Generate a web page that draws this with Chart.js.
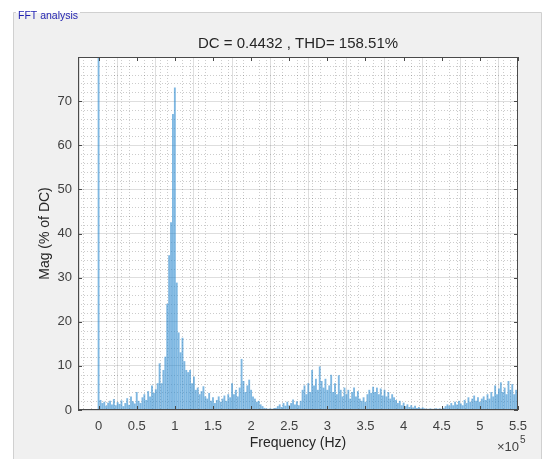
<!DOCTYPE html>
<html>
<head>
<meta charset="utf-8">
<script src="https://cdn.jsdelivr.net/npm/chart.js@4.4.1/dist/chart.umd.min.js"></script>
<style>
    html, body { margin: 0; padding: 0; background: #ffffff; }
    #wrap { position: relative; width: 547px; height: 459px; }
</style>
</head>
<body>
<div id="wrap"><canvas id="fft"></canvas></div>
<script>
var binHz = 2500;
var mag = [
    100, 2.2, 1.5, 1.8, 0.9, 1.6, 2.0, 1.2, 2.4, 1.0,
    1.7, 1.3, 2.1, 0.8, 1.5, 2.6, 1.1, 3.0, 1.9, 1.4,
    4.0, 2.0, 1.5, 2.8, 3.5, 2.2, 4.2, 3.0, 5.5, 3.8,
    4.6, 6.0, 10.5, 6.0, 9.0, 12.0, 24.0, 35.0, 42.5, 67.0,
    73.0, 28.8, 17.5, 13.0, 16.3, 11.0, 9.0, 8.5, 9.0, 6.0,
    7.5, 4.5, 5.0, 3.5, 4.2, 5.3, 3.0, 2.5, 3.8, 2.0,
    2.8, 1.5, 2.2, 3.0, 1.8, 2.5, 3.2, 2.0, 3.5, 2.8,
    6.0, 3.5, 4.5, 3.0, 5.0, 11.5, 6.5, 4.0, 5.5, 6.8,
    4.5, 3.0, 2.5, 1.8, 2.0, 1.2, 0.8, 0.4, 0.3, 0.2,
    0.3, 0.2, 0.3, 0.4, 0.8, 1.2, 0.6, 1.5, 0.9, 1.8,
    1.0, 1.5, 2.3, 1.2, 1.9, 1.0, 2.0, 4.5, 5.5, 3.5,
    6.0, 4.0, 9.0, 5.5, 7.0, 4.5, 9.8, 6.5, 5.0, 7.0,
    4.5, 5.5, 7.9, 4.0, 6.0, 3.5, 7.8, 4.5, 3.0, 5.0,
    3.5, 4.5, 2.5, 4.0, 5.0, 3.0, 4.2, 2.5, 2.0, 2.8,
    1.8, 3.5, 4.5, 3.8, 5.2, 4.0, 5.0, 3.5, 4.8, 3.2,
    4.5, 3.0, 4.0, 2.5, 3.5, 2.8, 2.2, 1.5, 2.0, 1.0,
    1.6, 0.8, 1.2, 0.6, 1.0, 0.5, 0.9, 0.4, 0.6, 0.3,
    0.5, 0.3, 0.2, 0.2, 0.3, 0.2, 0.2, 0.3, 0.2, 0.3,
    0.2, 0.4, 0.8, 1.2, 0.9, 1.5, 1.0, 1.8, 1.2, 2.0,
    1.4, 1.0, 2.2, 1.5, 2.8, 1.8, 2.5, 3.2, 2.0, 2.8,
    1.8, 2.5, 3.0, 2.2, 3.5, 2.5, 4.0, 3.0, 5.5, 3.5,
    4.8, 6.2, 4.0, 5.0, 3.5, 6.5, 4.5, 5.8, 3.5, 4.5,
    3.0
];
var xTicks = [0, 0.5, 1, 1.5, 2, 2.5, 3, 3.5, 4, 4.5, 5, 5.5];   // x 10^5 Hz
var yTicks = [0, 10, 20, 30, 40, 50, 60, 70];
var xMin = -27000, xMax = 550000, yMin = 0, yMax = 80;

var axisGrey = '#4a4a4a';
var fontName = "'Liberation Sans', Arial, sans-serif";

//! gray panel, groupbox, white plot area
var panelPlugin = {
    id: 'panel',
    beforeDraw: function (chart) {
        var ctx = chart.ctx, a = chart.chartArea;
        ctx.save();
        ctx.fillStyle = '#ffffff';
        ctx.fillRect(0, 0, chart.width, chart.height);
        ctx.fillStyle = '#f0f0f0';
        ctx.fillRect(13, 13, 528, chart.height - 13);
        // groupbox border
        ctx.strokeStyle = '#d0d0d0';
        ctx.lineWidth = 1;
        ctx.beginPath();
        ctx.moveTo(13.5, chart.height);
        ctx.lineTo(13.5, 12.5);
        ctx.lineTo(16, 12.5);
        ctx.moveTo(80, 12.5);
        ctx.lineTo(541.5, 12.5);
        ctx.lineTo(541.5, chart.height);
        ctx.stroke();
        ctx.fillStyle = '#1f1fb0';
        ctx.font = '10.5px ' + fontName;
        ctx.textBaseline = 'middle';
        ctx.fillText('FFT analysis', 18, 16);
        // plot area
        ctx.fillStyle = '#ffffff';
        ctx.fillRect(a.left, a.top, a.right - a.left, a.bottom - a.top);
        ctx.restore();
    },
    beforeDatasetsDraw: function (chart) {
        //! minor grid, dotted
        var ctx = chart.ctx, a = chart.chartArea;
        var xs = chart.scales.x, ys = chart.scales.y;
        ctx.save();
        ctx.strokeStyle = 'rgba(0,0,0,0.2)';
        ctx.lineWidth = 1;
        ctx.setLineDash([1, 2]);
        ctx.beginPath();
        for (var v = -20000; v < xMax; v += 10000) {
            if (v % 50000 === 0) continue;
            var px = Math.round(xs.getPixelForValue(v)) + 0.5;
            ctx.moveTo(px, a.top);
            ctx.lineTo(px, a.bottom);
        }
        for (var w = 2; w < yMax; w += 2) {
            if (w % 10 === 0) continue;
            var py = Math.round(ys.getPixelForValue(w)) + 0.5;
            ctx.moveTo(a.left, py);
            ctx.lineTo(a.right, py);
        }
        ctx.stroke();
        ctx.restore();
    },
    afterDraw: function (chart) {
        var ctx = chart.ctx, a = chart.chartArea;
        var xs = chart.scales.x, ys = chart.scales.y;
        ctx.save();
        ctx.strokeStyle = axisGrey;
        ctx.lineWidth = 1;
        ctx.strokeRect(a.left + 0.5, a.top + 0.5, a.right - a.left - 1, a.bottom - a.top - 1);
        // inward tick marks
        ctx.beginPath();
        xTicks.forEach(function (t) {
            var px = Math.round(xs.getPixelForValue(t * 1e5)) + 0.5;
            ctx.moveTo(px, a.bottom); ctx.lineTo(px, a.bottom - 4);
            ctx.moveTo(px, a.top); ctx.lineTo(px, a.top + 4);
        });
        yTicks.forEach(function (t) {
            var py = Math.round(ys.getPixelForValue(t)) + 0.5;
            ctx.moveTo(a.left, py); ctx.lineTo(a.left + 4, py);
            ctx.moveTo(a.right, py); ctx.lineTo(a.right - 4, py);
        });
        ctx.stroke();
        // exponent label
        ctx.fillStyle = '#404040';
        ctx.textAlign = 'right';
        ctx.textBaseline = 'alphabetic';
        ctx.font = '13px ' + fontName;
        ctx.fillText('\u00d710', 519, 451);
        ctx.textAlign = 'left';
        ctx.font = '10px ' + fontName;
        ctx.fillText('5', 520, 443);
        ctx.restore();
    }
};

document.addEventListener('DOMContentLoaded', function () {
    var canvas = document.getElementById('fft');
    canvas.width = 547;
    canvas.height = 459;
    var fftChart = new Chart(canvas.getContext('2d'), {
        type: 'bar',
        data: {
            datasets: [{
                label: 'Mag',
                data: mag.map(function (m, i) { return { x: i * binHz, y: m }; }),
                backgroundColor: 'rgba(40,135,205,0.6)',
                borderWidth: 0,
                barThickness: 1.2
            }]
        },
        options: {
            responsive: false,
            animation: false,
            layout: { padding: { left: 0, right: 29, top: 0, bottom: 0 } },
            plugins: {
                legend: { display: false },
                tooltip: { enabled: false },
                title: {
                    display: true,
                    fullSize: false,
                    text: 'DC = 0.4432 , THD= 158.51%',
                    color: '#262626',
                    font: { family: fontName, size: 15, weight: 'normal' },
                    padding: { top: 35, bottom: 4 }
                }
            },
            scales: {
                x: {
                    type: 'linear',
                    position: 'bottom',
                    offset: false,
                    min: xMin,
                    max: xMax,
                    afterBuildTicks: function (s) {
                        s.ticks = xTicks.map(function (t) { return { value: t * 1e5 }; });
                    },
                    afterFit: function (s) { s.height = 49; },
                    grid: { color: 'rgba(0,0,0,0.13)', drawTicks: false },
                    border: { display: false },
                    ticks: {
                        autoSkip: false,
                        maxRotation: 0,
                        padding: 9,
                        color: '#404040',
                        font: { family: fontName, size: 13 },
                        callback: function (v) { return String(v / 1e5); }
                    },
                    title: {
                        display: true,
                        text: 'Frequency (Hz)',
                        color: '#262626',
                        font: { family: fontName, size: 14 },
                        padding: { top: 0, bottom: 7 }
                    }
                },
                y: {
                    min: yMin,
                    max: yMax,
                    afterBuildTicks: function (s) {
                        s.ticks = yTicks.map(function (t) { return { value: t }; });
                    },
                    afterFit: function (s) { s.width = 78; },
                    grid: { color: 'rgba(0,0,0,0.13)', drawTicks: false },
                    border: { display: false },
                    ticks: {
                        padding: 6,
                        color: '#404040',
                        font: { family: fontName, size: 13 }
                    },
                    title: {
                        display: true,
                        text: 'Mag (% of DC)',
                        color: '#262626',
                        font: { family: fontName, size: 14 },
                        padding: { top: 37, bottom: 0 }
                    }
                }
            }
        },
        plugins: [panelPlugin]
    });
});
</script>
</body>
</html>
